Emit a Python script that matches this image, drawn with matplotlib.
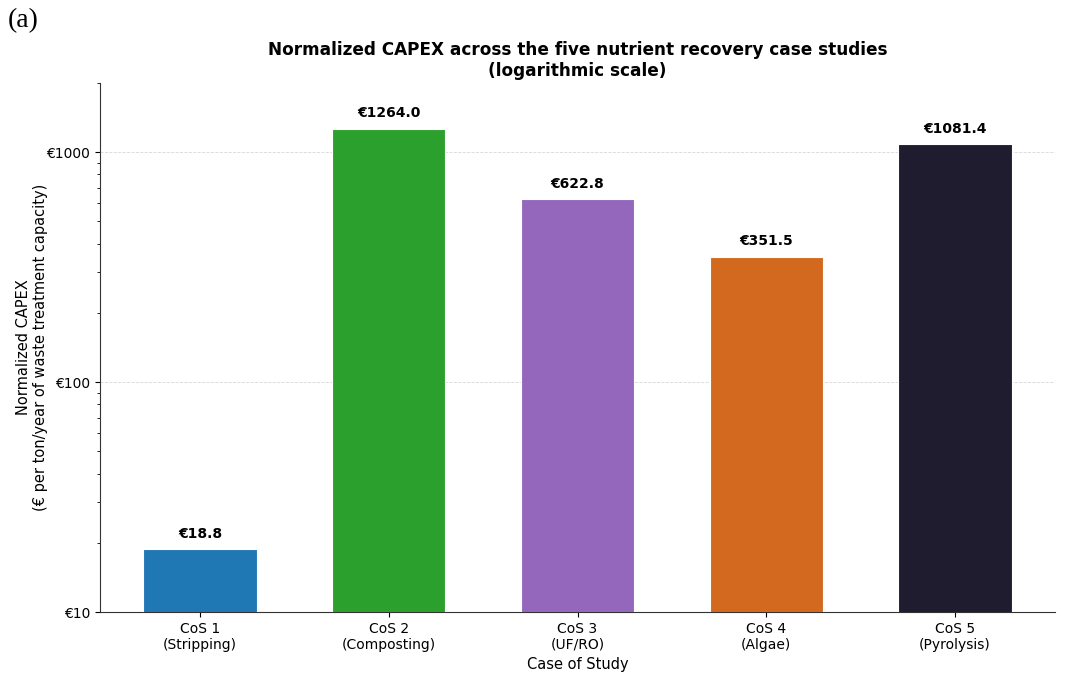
import numpy as np
import matplotlib.pyplot as plt
from matplotlib.ticker import FuncFormatter

# Données CAPEX normalisé par cas d'étude
categories = ["CoS 1\n(Stripping)", "CoS 2\n(Composting)", "CoS 3\n(UF/RO)",
              "CoS 4\n(Algae)", "CoS 5\n(Pyrolysis)"]
capex = [18.8, 1264.0, 622.8, 351.5, 1081.4]
colors = ["#1f77b4", "#2ca02c", "#9467bd", "#d2691e", "#1e1c2e"]

fig = plt.figure(figsize=(10.65, 6.78), dpi=100)
ax = fig.add_axes([100 / 1065, 66 / 678, 955 / 1065, 529 / 678])

x = np.arange(len(categories))
bars = ax.bar(x, capex, width=0.6, color=colors, edgecolor="white", linewidth=0.8, zorder=3)
ax.set_yscale("log")
ax.set_ylim(10, 2000)

for b, v in zip(bars, capex):
    ax.annotate(f"€{v:.1f}", (b.get_x() + b.get_width() / 2, v),
                xytext=(0, 6), textcoords="offset points",
                ha="center", va="bottom", fontsize=10, fontweight="bold")

ax.yaxis.set_major_formatter(FuncFormatter(lambda y, p: f"€{y:.0f}"))
ax.set_xticks(x)
ax.set_xticklabels(categories, fontsize=10)
ax.tick_params(axis="y", labelsize=10)
ax.grid(axis="y", which="major", linestyle="--", linewidth=0.6, alpha=0.5, zorder=0)

ax.spines["top"].set_visible(False)
ax.spines["right"].set_visible(False)
for s in ("left", "bottom"):
    ax.spines[s].set_color("#333333")

ax.set_xlabel("Case of Study", fontsize=10.5)
ax.set_ylabel("Normalized CAPEX\n(€ per ton/year of waste treatment capacity)", fontsize=10.5)
ax.yaxis.set_label_coords(-0.054, 0.5)
ax.set_title("Normalized CAPEX across the five nutrient recovery case studies\n(logarithmic scale)",
             fontsize=12.2, fontweight="bold", pad=5)

fig.text(8 / 1065, 1 - 21 / 678, "(a)", fontsize=20, family="Liberation Serif", va="center", ha="left")

fig.savefig("out.png", dpi=100)
